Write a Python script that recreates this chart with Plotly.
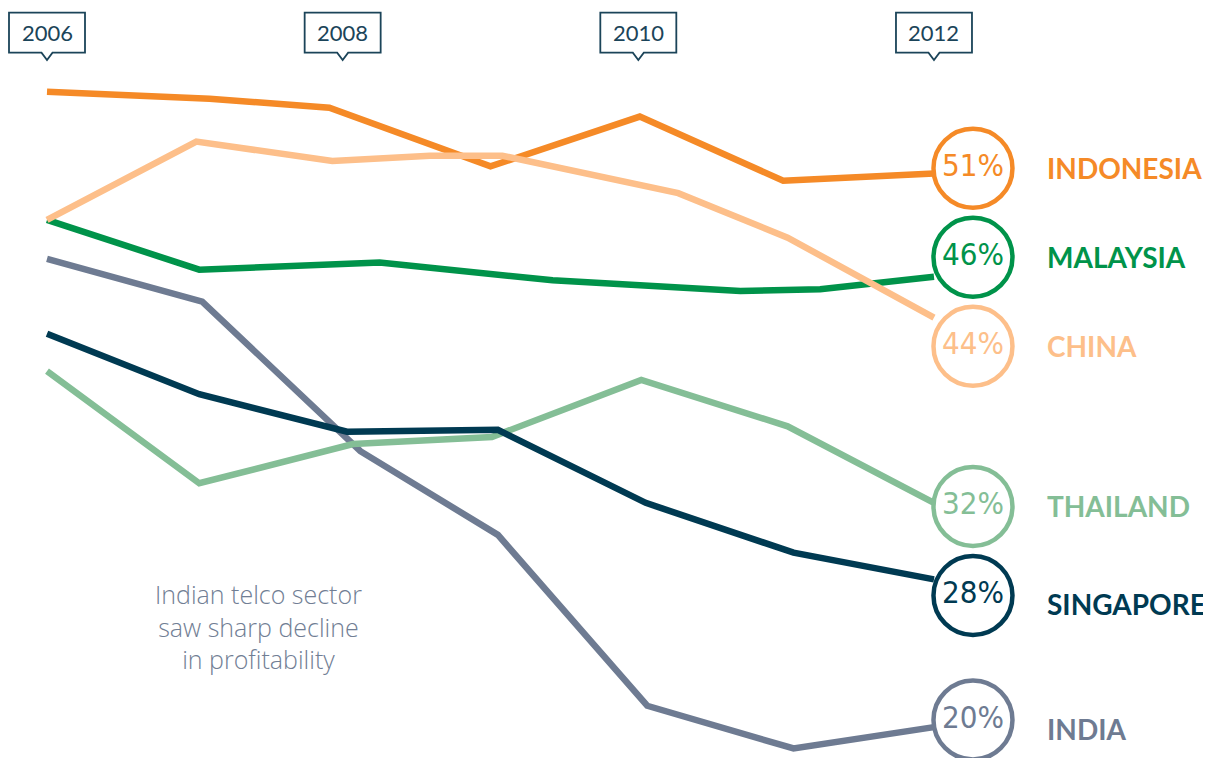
import plotly.graph_objects as go

""" ---------------- DATA ---------------- """
# x en años (fracciones), y en %
countries = ["INDIA", "THAILAND", "SINGAPORE", "MALAYSIA", "INDONESIA", "CHINA"]
final_pct = [20, 32, 28, 46, 51, 44]

india_x = [2006.00, 2007.05, 2008.12, 2009.05, 2010.06, 2011.05, 2012.00]
india_y = [45.9, 43.5, 35.1, 30.4, 20.8, 18.4, 19.6]

thailand_x = [2006.00, 2007.03, 2008.07, 2009.01, 2010.02, 2011.01, 2012.00]
thailand_y = [39.6, 33.3, 35.5, 35.9, 39.1, 36.5, 32.2]

singapore_x = [2006.00, 2007.03, 2008.03, 2009.05, 2010.05, 2011.05, 2012.00]
singapore_y = [41.7, 38.3, 36.2, 36.3, 32.2, 29.4, 27.9]

malaysia_x = [2006.00, 2007.03, 2008.25, 2009.42, 2010.69, 2011.23, 2012.00]
malaysia_y = [48.1, 45.3, 45.7, 44.7, 44.1, 44.2, 44.9]

indonesia_x = [2006.00, 2007.10, 2007.91, 2009.00, 2010.01, 2010.98, 2012.00]
indonesia_y = [55.3, 54.9, 54.4, 51.1, 53.9, 50.3, 50.7]

china_x = [2006.00, 2007.01, 2007.93, 2008.59, 2009.08, 2010.27, 2011.01, 2012.00]
china_y = [48.1, 52.5, 51.4, 51.7, 51.7, 49.6, 47.1, 42.6]

year_ticks = [2006, 2008, 2010, 2012]

note_lines = ["Indian telco sector", "saw sharp decline", "in profitability"]

series_x = [india_x, thailand_x, singapore_x, malaysia_x, indonesia_x, china_x]
series_y = [india_y, thailand_y, singapore_y, malaysia_y, indonesia_y, china_y]

""" ---------------- ESTILO ---------------- """
colors = ["#6E7B92", "#84BE96", "#003A52", "#00934A", "#F58A27", "#FDBF8A"]
# la página deja 8px de margen en el body: la figura empieza en (8, 8)
OFF = 8
W, H = 1211 - OFF, 758 - OFF
PX_YEAR = 147.83
X0 = 2006 - (47 - OFF) / PX_YEAR
Y_TOP, Y_BOT = 60.0, 17.865
BOX_COLOR = "#1B4459"
MIN_GAP = 5.0
NARROW = "Liberation Sans Narrow, DejaVu Sans Condensed, Roboto Condensed, Roboto, sans-serif"


def px2x(px):
    return X0 + (px - OFF) / PX_YEAR


def py2paper(py):
    return 1 - (py - OFF) / H


fig = go.Figure()

for name, xs, ys, c in zip(countries, series_x, series_y, colors):
    fig.add_trace(go.Scatter(x=xs, y=ys, mode="lines", name=name,
                             line=dict(color=c, width=6.5), hoverinfo="skip"))

# posiciones de las etiquetas (separadas para que no se pisen)
order = sorted(range(len(final_pct)), key=lambda i: -final_pct[i])
label_y = [0] * len(final_pct)
prev = None
for i in order:
    v = final_pct[i]
    if prev is not None and prev - v < MIN_GAP:
        v = prev - MIN_GAP
    label_y[i] = v
    prev = v

circle_x = 2012 + 39 / PX_YEAR
fig.add_trace(go.Scatter(
    x=[circle_x] * len(countries), y=label_y, mode="markers+text",
    text=[f"{p}%" for p in final_pct], textposition="middle center",
    textfont=dict(family=NARROW, size=31, color=colors, weight=300),
    marker=dict(size=79, color="white", line=dict(color=colors, width=4.5)),
    hoverinfo="skip", cliponaxis=False))

name_shift = {"SINGAPORE": -9, "INDIA": -9}
for name, v, c in zip(countries, label_y, colors):
    fig.add_annotation(x=2012 + 111 / PX_YEAR, y=v, text=name, showarrow=False,
                       xanchor="left", yanchor="middle", yshift=name_shift.get(name, 0),
                       font=dict(family="Lato", size=28, color=c, weight=700))

# cajas de los años
hw = 38 / PX_YEAR
cw = 5.5 / PX_YEAR
top, bot, tip = py2paper(12.7), py2paper(52.7), py2paper(60)
for yr in year_ticks:
    path = (f"M {yr - hw},{top} L {yr + hw},{top} L {yr + hw},{bot} "
            f"L {yr + cw},{bot} L {yr},{tip} L {yr - cw},{bot} L {yr - hw},{bot} Z")
    fig.add_shape(type="path", path=path, xref="x", yref="paper",
                  line=dict(color=BOX_COLOR, width=1.8), fillcolor="white")
    fig.add_annotation(x=yr, y=py2paper(33), xref="x", yref="paper", text=str(yr),
                       showarrow=False, yanchor="middle",
                       font=dict(family="Lato", size=22, color=BOX_COLOR))

fig.add_annotation(x=px2x(258), y=py2paper(626), xref="x", yref="paper",
                   text="<br>".join(note_lines), showarrow=False, align="center",
                   yanchor="middle",
                   font=dict(family="Open Sans", size=25, color="#717E94", weight=300))

fig.update_layout(
    width=W, height=H, margin=dict(l=0, r=0, t=0, b=0, autoexpand=False),
    paper_bgcolor="white", plot_bgcolor="white", showlegend=False,
    xaxis=dict(range=[X0, X0 + W / PX_YEAR], visible=False, fixedrange=True),
    yaxis=dict(range=[Y_BOT, Y_TOP], visible=False, fixedrange=True),
)

fig.write_html("out.html")
